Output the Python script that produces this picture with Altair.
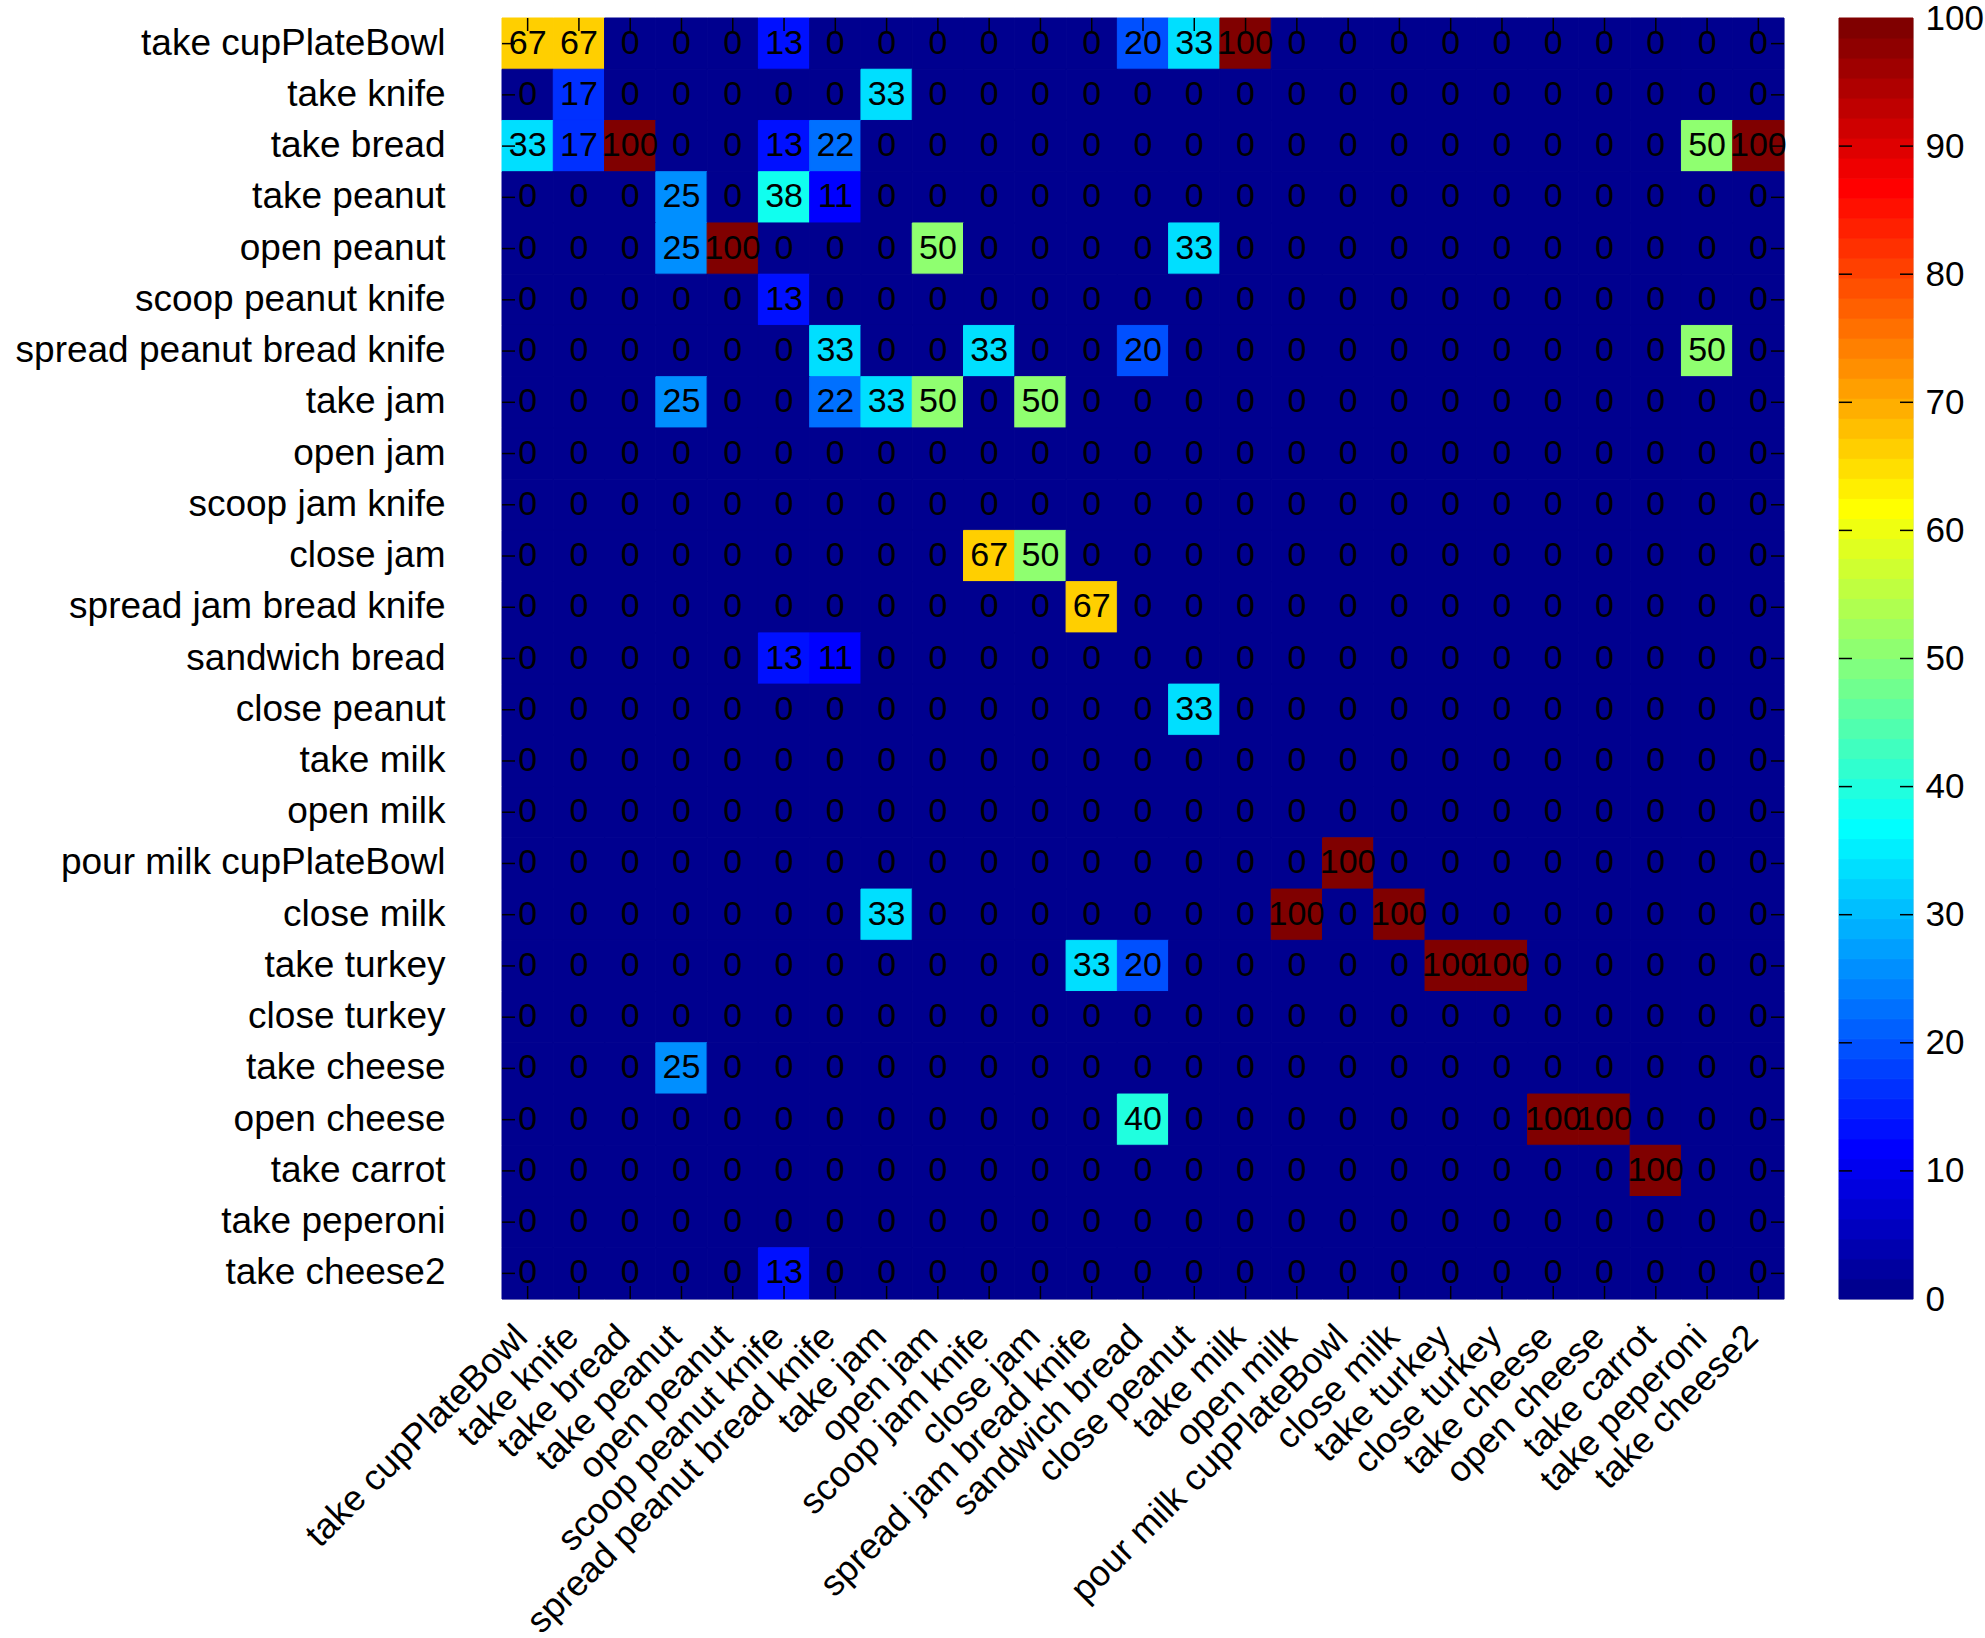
import altair as alt
import numpy as np
import pandas as pd

FONT = "Liberation Sans"

actions = [
    "take cupPlateBowl", "take knife", "take bread", "take peanut", "open peanut",
    "scoop peanut knife", "spread peanut bread knife", "take jam", "open jam",
    "scoop jam knife", "close jam", "spread jam bread knife", "sandwich bread",
    "close peanut", "take milk", "open milk", "pour milk cupPlateBowl", "close milk",
    "take turkey", "close turkey", "take cheese", "open cheese", "take carrot",
    "take peperoni", "take cheese2",
]

# Confusion matrix in percent: one list per row action, columns in the same order
confusion = [
    [67, 67, 0, 0, 0, 13, 0, 0, 0, 0, 0, 0, 20, 33, 100, 0, 0, 0, 0, 0, 0, 0, 0, 0, 0],
    [0, 17, 0, 0, 0, 0, 0, 33, 0, 0, 0, 0, 0, 0, 0, 0, 0, 0, 0, 0, 0, 0, 0, 0, 0],
    [33, 17, 100, 0, 0, 13, 22, 0, 0, 0, 0, 0, 0, 0, 0, 0, 0, 0, 0, 0, 0, 0, 0, 50, 100],
    [0, 0, 0, 25, 0, 38, 11, 0, 0, 0, 0, 0, 0, 0, 0, 0, 0, 0, 0, 0, 0, 0, 0, 0, 0],
    [0, 0, 0, 25, 100, 0, 0, 0, 50, 0, 0, 0, 0, 33, 0, 0, 0, 0, 0, 0, 0, 0, 0, 0, 0],
    [0, 0, 0, 0, 0, 13, 0, 0, 0, 0, 0, 0, 0, 0, 0, 0, 0, 0, 0, 0, 0, 0, 0, 0, 0],
    [0, 0, 0, 0, 0, 0, 33, 0, 0, 33, 0, 0, 20, 0, 0, 0, 0, 0, 0, 0, 0, 0, 0, 50, 0],
    [0, 0, 0, 25, 0, 0, 22, 33, 50, 0, 50, 0, 0, 0, 0, 0, 0, 0, 0, 0, 0, 0, 0, 0, 0],
    [0, 0, 0, 0, 0, 0, 0, 0, 0, 0, 0, 0, 0, 0, 0, 0, 0, 0, 0, 0, 0, 0, 0, 0, 0],
    [0, 0, 0, 0, 0, 0, 0, 0, 0, 0, 0, 0, 0, 0, 0, 0, 0, 0, 0, 0, 0, 0, 0, 0, 0],
    [0, 0, 0, 0, 0, 0, 0, 0, 0, 67, 50, 0, 0, 0, 0, 0, 0, 0, 0, 0, 0, 0, 0, 0, 0],
    [0, 0, 0, 0, 0, 0, 0, 0, 0, 0, 0, 67, 0, 0, 0, 0, 0, 0, 0, 0, 0, 0, 0, 0, 0],
    [0, 0, 0, 0, 0, 13, 11, 0, 0, 0, 0, 0, 0, 0, 0, 0, 0, 0, 0, 0, 0, 0, 0, 0, 0],
    [0, 0, 0, 0, 0, 0, 0, 0, 0, 0, 0, 0, 0, 33, 0, 0, 0, 0, 0, 0, 0, 0, 0, 0, 0],
    [0, 0, 0, 0, 0, 0, 0, 0, 0, 0, 0, 0, 0, 0, 0, 0, 0, 0, 0, 0, 0, 0, 0, 0, 0],
    [0, 0, 0, 0, 0, 0, 0, 0, 0, 0, 0, 0, 0, 0, 0, 0, 0, 0, 0, 0, 0, 0, 0, 0, 0],
    [0, 0, 0, 0, 0, 0, 0, 0, 0, 0, 0, 0, 0, 0, 0, 0, 100, 0, 0, 0, 0, 0, 0, 0, 0],
    [0, 0, 0, 0, 0, 0, 0, 33, 0, 0, 0, 0, 0, 0, 0, 100, 0, 100, 0, 0, 0, 0, 0, 0, 0],
    [0, 0, 0, 0, 0, 0, 0, 0, 0, 0, 0, 33, 20, 0, 0, 0, 0, 0, 100, 100, 0, 0, 0, 0, 0],
    [0, 0, 0, 0, 0, 0, 0, 0, 0, 0, 0, 0, 0, 0, 0, 0, 0, 0, 0, 0, 0, 0, 0, 0, 0],
    [0, 0, 0, 25, 0, 0, 0, 0, 0, 0, 0, 0, 0, 0, 0, 0, 0, 0, 0, 0, 0, 0, 0, 0, 0],
    [0, 0, 0, 0, 0, 0, 0, 0, 0, 0, 0, 0, 40, 0, 0, 0, 0, 0, 0, 0, 100, 100, 0, 0, 0],
    [0, 0, 0, 0, 0, 0, 0, 0, 0, 0, 0, 0, 0, 0, 0, 0, 0, 0, 0, 0, 0, 0, 100, 0, 0],
    [0, 0, 0, 0, 0, 0, 0, 0, 0, 0, 0, 0, 0, 0, 0, 0, 0, 0, 0, 0, 0, 0, 0, 0, 0],
    [0, 0, 0, 0, 0, 13, 0, 0, 0, 0, 0, 0, 0, 0, 0, 0, 0, 0, 0, 0, 0, 0, 0, 0, 0],
]

colorbar_ticks = [0, 10, 20, 30, 40, 50, 60, 70, 80, 90, 100]
inner_ticks = [10, 20, 30, 40, 50, 60, 70, 80, 90]


def jet(m=64):
    """MATLAB-style jet colormap with m entries, as hex strings."""
    n = int(np.ceil(m / 4))
    u = np.concatenate([np.arange(1, n + 1) / n, np.ones(n - 1), np.arange(n, 0, -1) / n])
    g = int(np.ceil(n / 2)) - (1 if m % 4 == 1 else 0) + np.arange(1, len(u) + 1)
    r = g + n
    b = g - n
    cmap = np.zeros((m, 3))
    for ch, idx in enumerate([r, g, b]):
        ok = (idx >= 1) & (idx <= m)
        cmap[idx[ok] - 1, ch] = u[ok]
    return ["#%02x%02x%02x" % tuple(int(round(c * 255)) for c in rgb) for rgb in cmap]


N_LEVELS = 64
color_scale = alt.Scale(type="quantize", domain=[0, 100], range=jet(N_LEVELS))

cells = pd.DataFrame(
    [
        {"row": r, "col": c, "value": confusion[i][j]}
        for i, r in enumerate(actions)
        for j, c in enumerate(actions)
    ]
)
tick_df = pd.DataFrame({"row": actions, "col": actions})

W, H = 1282, 1281
TICK = 13

x_enc = alt.X(
    "col:N",
    sort=actions,
    scale=alt.Scale(paddingInner=0, paddingOuter=0),
    axis=alt.Axis(
        title=None, labelAngle=315, labelAlign="right", labelBaseline="middle",
        labelPadding=32, labelOffset=-6, ticks=False, domain=False, labelFont=FONT,
        labelFontSize=36, labelColor="black", labelLimit=800,
    ),
)
y_enc = alt.Y(
    "row:N",
    sort=actions,
    scale=alt.Scale(paddingInner=0, paddingOuter=0),
    axis=alt.Axis(
        title=None, ticks=False, domain=False, labelFont=FONT, labelFontSize=37,
        labelColor="black", labelPadding=57, labelLimit=800,
    ),
)

# Cells get a hairline stroke of their own colour so neighbouring blocks close up
heat = alt.Chart(cells).mark_rect(strokeWidth=1).encode(
    x=x_enc,
    y=y_enc,
    color=alt.Color("value:Q", scale=color_scale, legend=None),
    stroke=alt.Stroke("value:Q", scale=color_scale, legend=None),
)
numbers = alt.Chart(cells).mark_text(font=FONT, fontSize=34, color="black").encode(
    x=x_enc, y=y_enc, text="value:Q"
)
tick_style = dict(color="black", strokeWidth=1.5)
tick_top = alt.Chart(tick_df).mark_rule(**tick_style).encode(
    x=x_enc, y=alt.value(0), y2=alt.value(TICK)
)
tick_bottom = alt.Chart(tick_df).mark_rule(**tick_style).encode(
    x=x_enc, y=alt.value(H - TICK), y2=alt.value(H)
)
tick_left = alt.Chart(tick_df).mark_rule(**tick_style).encode(
    y=y_enc, x=alt.value(0), x2=alt.value(TICK)
)
tick_right = alt.Chart(tick_df).mark_rule(**tick_style).encode(
    y=y_enc, x=alt.value(W - TICK), x2=alt.value(W)
)

matrix = alt.layer(heat, numbers, tick_top, tick_bottom, tick_left, tick_right).properties(
    width=W, height=H
)

# Colour bar: one block per colormap level
step = 100 / N_LEVELS
bar_df = pd.DataFrame(
    {
        "lo": [k * step for k in range(N_LEVELS)],
        "hi": [(k + 1) * step for k in range(N_LEVELS)],
        "mid": [(k + 0.5) * step for k in range(N_LEVELS)],
    }
)
CB_W = 74
bar_y = alt.Y(
    "lo:Q",
    scale=alt.Scale(domain=[0, 100], nice=False, zero=False),
    axis=alt.Axis(
        orient="right", values=colorbar_ticks, title=None, ticks=False, domain=False,
        grid=False, labelFont=FONT, labelFontSize=35, labelColor="black", labelPadding=12,
    ),
)
bar = alt.Chart(bar_df).mark_rect(strokeWidth=1).encode(
    y=bar_y,
    y2="hi:Q",
    color=alt.Color("mid:Q", scale=color_scale, legend=None),
    stroke=alt.Stroke("mid:Q", scale=color_scale, legend=None),
)
inner_df = pd.DataFrame({"lo": inner_ticks})
bar_tick_l = alt.Chart(inner_df).mark_rule(**tick_style).encode(
    y=bar_y, x=alt.value(0), x2=alt.value(TICK)
)
bar_tick_r = alt.Chart(inner_df).mark_rule(**tick_style).encode(
    y=bar_y, x=alt.value(CB_W - TICK), x2=alt.value(CB_W)
)
colorbar = alt.layer(bar, bar_tick_l, bar_tick_r).properties(width=CB_W, height=H)

chart = (
    alt.hconcat(matrix, colorbar, spacing=55, bounds="flush")
    .properties(padding={"left": 14, "top": 0, "right": 0, "bottom": 0})
    .configure_view(stroke="black", strokeWidth=2)
    .configure(background="white")
)

chart.save("out.html", embed_options={"renderer": "svg", "actions": False})
